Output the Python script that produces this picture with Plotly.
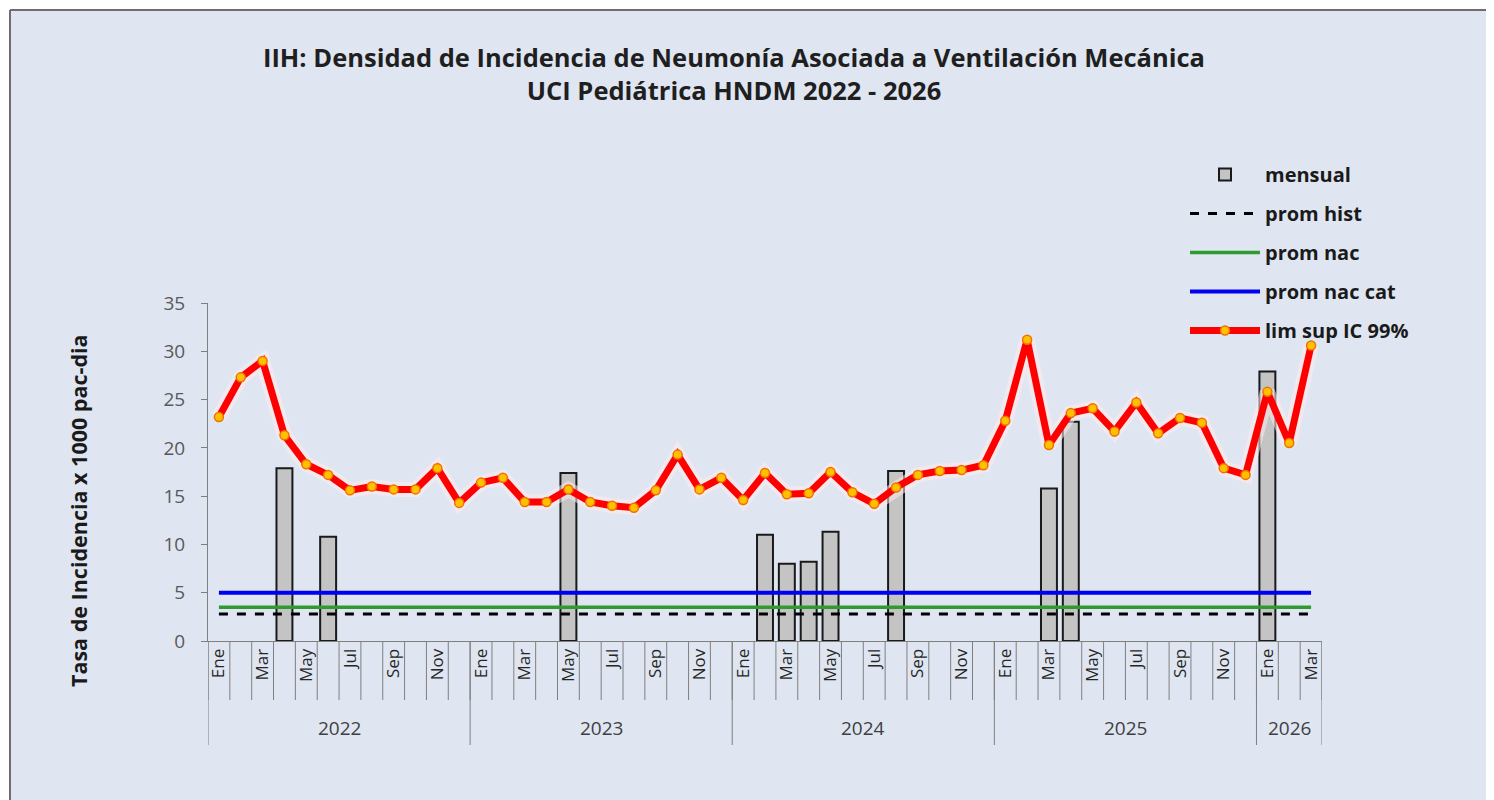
import plotly.graph_objects as go

# ---------------- data ----------------
years = ["2022", "2023", "2024", "2025", "2026"]
month_names = ["Ene", "Feb", "Mar", "Abr", "May", "Jun", "Jul", "Ago", "Sep", "Oct", "Nov", "Dic"]
months_per_year = [12, 12, 12, 12, 3]

# monthly incidence density (only months with cases)
mensual = [None, None, None, 17.9, None, 10.8, None, None, None, None, None, None,
           None, None, None, None, 17.4, None, None, None, None, None, None, None,
           None, 11.0, 8.0, 8.2, 11.3, None, None, 17.6, None, None, None, None,
           None, None, 15.8, 22.7, None, None, None, None, None, None, None, None,
           27.9, None, None]

lim_sup = [23.2, 27.3, 29.0, 21.3, 18.3, 17.2, 15.6, 16.0, 15.7, 15.7, 17.9, 14.3,
           16.4, 16.9, 14.4, 14.4, 15.7, 14.4, 14.0, 13.8, 15.6, 19.3, 15.7, 16.9,
           14.6, 17.4, 15.2, 15.3, 17.5, 15.4, 14.2, 15.9, 17.2, 17.6, 17.7, 18.2,
           22.8, 31.2, 20.3, 23.6, 24.1, 21.7, 24.7, 21.5, 23.1, 22.6, 17.9, 17.2,
           25.8, 20.5, 30.6]

prom_hist = 2.8
prom_nac = 3.5
prom_nac_cat = 5.0

# ---------------- derived categories ----------------
cat_year, cat_month = [], []
for y, n in zip(years, months_per_year):
    for m in month_names[:n]:
        cat_year.append(y)
        cat_month.append(m)
N = len(cat_month)
xs = list(range(N))

FONT = "Open Sans"
BG = "#DFE6F2"

# plot-area geometry (page pixels) used to place decorations in paper units
PL, PR, PT, PB = 208, 1322, 303, 641
PW, PH = PR - PL, PB - PT


def px_x(px):
    return (px - PL) / PW


def px_y(py):
    return (PB - py) / PH


fig = go.Figure()

fig.add_trace(go.Bar(
    x=xs, y=mensual, name="mensual", width=0.73,
    marker=dict(color="#C4C4C4", line=dict(color="#1a1a1a", width=2)),
    legendgroup="a",
))
fig.add_trace(go.Scatter(
    x=xs, y=[prom_hist] * N, name="prom hist", mode="lines",
    line=dict(color="#000000", width=3, dash="dash"), legendgroup="b",
))
fig.add_trace(go.Scatter(
    x=xs, y=[prom_nac] * N, name="prom nac", mode="lines",
    line=dict(color="#2E9B2E", width=3.5), legendgroup="c",
))
fig.add_trace(go.Scatter(
    x=xs, y=[prom_nac_cat] * N, name="prom nac cat", mode="lines",
    line=dict(color="#0000F0", width=4), legendgroup="d",
))
# soft glow under the red line
fig.add_trace(go.Scatter(
    x=xs, y=lim_sup, mode="lines", showlegend=False, hoverinfo="skip",
    line=dict(color="rgba(255,235,235,0.55)", width=15),
))
fig.add_trace(go.Scatter(
    x=xs, y=lim_sup, name="lim sup IC 99%", mode="lines+markers",
    line=dict(color="#FF0000", width=7),
    marker=dict(size=9, color="#FFC000", line=dict(color="#F07000", width=1.5)),
    legendgroup="e",
))

# ---------------- axis decorations ----------------
shapes = []
# month cell separators
for i in range(N + 1):
    shapes.append(dict(type="line", xref="x", yref="paper",
                       x0=i - 0.5, x1=i - 0.5, y0=0, y1=px_y(700),
                       line=dict(color="#7F7F7F", width=1)))
# year separators
bounds = [0]
for n in months_per_year:
    bounds.append(bounds[-1] + n)
for b in bounds:
    shapes.append(dict(type="line", xref="x", yref="paper",
                       x0=b - 0.5, x1=b - 0.5, y0=0, y1=px_y(745),
                       line=dict(color="#7F7F7F", width=1)))
# outer frame (top / left border)
shapes.append(dict(type="rect", xref="paper", yref="paper",
                   x0=-1, x1=px_x(10), y0=-2, y1=3,
                   fillcolor="white", line=dict(width=0), layer="below"))
shapes.append(dict(type="rect", xref="paper", yref="paper",
                   x0=-1, x1=px_x(1494), y0=px_y(10), y1=3,
                   fillcolor="white", line=dict(width=0), layer="below"))
shapes.append(dict(type="line", xref="paper", yref="paper",
                   x0=px_x(10), x1=px_x(1494), y0=px_y(10), y1=px_y(10),
                   line=dict(color="#6E6E6E", width=2)))
shapes.append(dict(type="line", xref="paper", yref="paper",
                   x0=px_x(10), x1=px_x(10), y0=px_y(800), y1=px_y(10),
                   line=dict(color="#6E6E6E", width=2)))

annotations = []
for k, y in enumerate(years):
    center = (bounds[k] + bounds[k + 1] - 1) / 2
    annotations.append(dict(x=center, xref="x", y=px_y(728), yref="paper",
                            text=y, showarrow=False, yanchor="middle",
                            font=dict(family=FONT, size=19, color="#404040")))
annotations.append(dict(x=px_x(78), xref="paper", y=px_y(511), yref="paper",
                        text="<b>Tasa de Incidencia x 1000 pac-dia</b>", textangle=-90,
                        showarrow=False, xanchor="center", yanchor="middle",
                        font=dict(family=FONT, size=21.5, color="#1a1a1a")))

W, H = 1486, 792  # page has an 8px body margin
fig.update_layout(
    width=W, height=H,
    margin=dict(l=PL - 8, r=1494 - PR, t=PT - 8, b=800 - PB),
    paper_bgcolor=BG, plot_bgcolor=BG,
    title=dict(text="<b>IIH: Densidad de Incidencia de Neumonía Asociada a Ventilación Mecánica<br>UCI Pediátrica HNDM 2022 - 2026</b>",
               x=(734 - 8) / W, xanchor="center", xref="container",
               y=1 - (67 - 8) / H, yanchor="middle", yref="container",
               font=dict(family=FONT, size=25.5, color="#1F1F1F")),
    barmode="overlay",
    showlegend=True,
    legend=dict(x=px_x(1185), xanchor="left", y=px_y(155), yanchor="top",
                bgcolor="rgba(0,0,0,0)", itemwidth=70, tracegroupgap=10,
                traceorder="grouped",
                font=dict(family=FONT, size=20, color="#1a1a1a", weight="bold")),
    shapes=shapes,
    annotations=annotations,
    xaxis=dict(range=[-0.5, N - 0.5], tickmode="array",
               tickvals=xs[::2], ticktext=cat_month[::2], tickangle=-90,
               showgrid=False, zeroline=False, showline=True, linecolor="#7F7F7F", linewidth=1,
               ticks="", tickfont=dict(family=FONT, size=17, color="#262626")),
    yaxis=dict(range=[0, 35], dtick=5, showgrid=False, zeroline=False,
               showline=True, linecolor="#7F7F7F", linewidth=1,
               ticks="outside", ticklen=6, tickcolor="#7F7F7F",
               ticklabelstandoff=12,
               tickfont=dict(family=FONT, size=19, color="#595959")),
    hovermode=False,
)

fig.write_html("out.html")
